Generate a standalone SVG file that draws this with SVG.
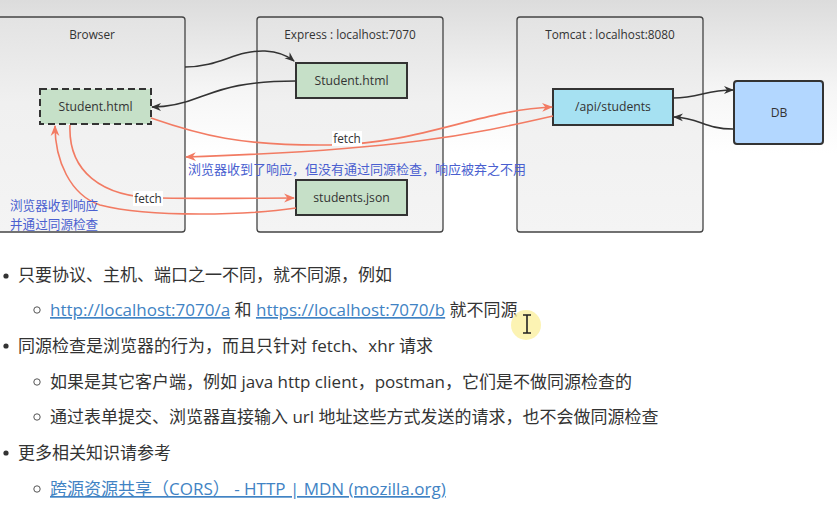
<svg xmlns="http://www.w3.org/2000/svg" width="837" height="513" viewBox="0 0 837 513">
<defs>
<linearGradient id="bg" x1="0" y1="0" x2="0" y2="1">
<stop offset="0" stop-color="#dcdcdc"/>
<stop offset="0.18" stop-color="#f6f6f6"/>
<stop offset="0.3" stop-color="#ffffff"/>
</linearGradient>
<linearGradient id="boxg" x1="0" y1="0" x2="0" y2="1">
<stop offset="0" stop-color="#e3e3e3"/>
<stop offset="0.4" stop-color="#f0f0f0"/>
<stop offset="1" stop-color="#f4f4f4"/>
</linearGradient>
<marker id="ab" viewBox="0 0 10 10" refX="9" refY="5" markerWidth="10" markerHeight="10" markerUnits="userSpaceOnUse" orient="auto">
<path d="M0,1 L10,5 L0,9 L3,5 Z" fill="#333"/>
</marker>
<marker id="ar" viewBox="0 0 10 10" refX="9" refY="5" markerWidth="11" markerHeight="11" markerUnits="userSpaceOnUse" orient="auto">
<path d="M0,1 L10,5 L0,9 L3,5 Z" fill="#f27b63"/>
</marker>
<style>
.cont{fill:url(#boxg);stroke:#444;stroke-width:1.3}
.green{fill:#c6e0c8;stroke:#333;stroke-width:2}
.t{font-family:"Open Sans","Noto Sans","Noto Sans CJK SC",sans-serif;fill:#333;font-size:11.8px}
.tn{font-family:"Open Sans","Noto Sans","Noto Sans CJK SC",sans-serif;fill:#333;font-size:12.2px}
.blue{font-family:"Noto Sans CJK SC",sans-serif;fill:#4a5fd0;font-size:13px}
.blk{fill:none;stroke:#333;stroke-width:1.6}
.red{fill:none;stroke:#f27b63;stroke-width:1.6}
.p{font-family:"Open Sans","Noto Sans CJK SC",sans-serif;fill:#333;font-size:17px}
.lnk{fill:#4183c4;text-decoration:underline}
</style>
</defs>
<rect width="837" height="513" fill="url(#bg)"/>

<g id="browser">
<rect class="cont" x="-3" y="17" width="188" height="215" rx="3"/>
<text class="t" x="92" y="39" text-anchor="middle">Browser</text>
</g>
<g id="express">
<rect class="cont" x="257" y="17" width="186" height="215" rx="3"/>
<text class="t" x="350" y="39" text-anchor="middle">Express : localhost:7070</text>
</g>
<g id="tomcat">
<rect class="cont" x="517" y="17" width="186" height="215" rx="3"/>
<text class="t" x="610" y="39" text-anchor="middle">Tomcat : localhost:8080</text>
</g>

<g id="browser-student">
<rect x="40" y="89" width="111" height="35" fill="#c6e0c8" stroke="#333" stroke-width="2" stroke-dasharray="7,4"/>
<text class="tn" x="95.5" y="111" text-anchor="middle">Student.html</text>
</g>
<g id="express-student">
<rect class="green" x="296" y="63" width="111" height="35"/>
<text class="tn" x="351.5" y="85" text-anchor="middle">Student.html</text>
</g>
<g id="students-json">
<rect class="green" x="296" y="180" width="111" height="35"/>
<text class="tn" x="351.5" y="202" text-anchor="middle">students.json</text>
</g>
<g id="api-students">
<rect x="553" y="89" width="120" height="36" fill="#a6e1f2" stroke="#333" stroke-width="2"/>
<text class="tn" x="613" y="111" text-anchor="middle">/api/students</text>
</g>
<g id="db">
<rect x="734" y="81" width="89" height="63" rx="3" fill="#b3d7ff" stroke="#333" stroke-width="2"/>
<text class="tn" x="779" y="117" text-anchor="middle">DB</text>
</g>

<g id="connectors">
<path class="blk" d="M185,67 C220,67 235,50 265,51 C280,52 288,56 294,61" marker-end="url(#ab)"/>
<path class="blk" d="M296,81 C240,81 220,90 200,97 C185,103 170,107 152,107" marker-end="url(#ab)"/>
<path class="blk" d="M673,98 C700,98 705,90 733,90" marker-end="url(#ab)"/>
<path class="blk" d="M733,129 C705,129 700,118 674,117" marker-end="url(#ab)"/>
<path class="red" d="M151,118 C200,135 240,146 330,145 C420,144 480,110 552,107" marker-end="url(#ar)"/>
<path class="red" d="M553,116 C470,135 400,150 186,157" marker-end="url(#ar)"/>
<path class="red" d="M70,125 C68,170 100,198 160,198 C220,199 260,198 294,198" marker-end="url(#ar)"/>
<path class="red" d="M296,208 C250,215 150,218 100,205 C70,195 55,160 55,126" marker-end="url(#ar)"/>
<rect x="332" y="131" width="30" height="15" fill="#fff"/>
<text class="t" x="347" y="143" text-anchor="middle">fetch</text>
<rect x="133" y="191" width="30" height="15" fill="#fff"/>
<text class="t" x="148" y="203" text-anchor="middle">fetch</text>
</g>

<text class="blue" x="188" y="174">浏览器收到了响应，但没有通过同源检查，响应被弃之不用</text>
<text class="blue" x="10" y="210" style="font-size:12.6px">浏览器收到响应</text>
<text class="blue" x="10" y="229" style="font-size:12.6px">并通过同源检查</text>

<g id="notes">
<circle cx="6" cy="276" r="2.6" fill="#333"/>
<text class="p" x="18" y="281">只要协议、主机、端口之一不同，就不同源，例如</text>
<circle cx="37" cy="310" r="3.2" fill="none" stroke="#555" stroke-width="1"/>
<text class="p" x="50" y="316"><tspan class="lnk">http://localhost:7070/a</tspan> 和 <tspan class="lnk">https://localhost:7070/b</tspan> 就不同源</text>
<circle cx="6" cy="346" r="2.6" fill="#333"/>
<text class="p" x="18" y="352">同源检查是浏览器的行为，而且只针对 fetch、xhr 请求</text>
<circle cx="37" cy="382" r="3.2" fill="none" stroke="#555" stroke-width="1"/>
<text class="p" x="50" y="388">如果是其它客户端，例如 java http client，postman，它们是不做同源检查的</text>
<circle cx="37" cy="417" r="3.2" fill="none" stroke="#555" stroke-width="1"/>
<text class="p" x="50" y="423">通过表单提交、浏览器直接输入 url 地址这些方式发送的请求，也不会做同源检查</text>
<circle cx="6" cy="453" r="2.6" fill="#333"/>
<text class="p" x="18" y="459">更多相关知识请参考</text>
<circle cx="37" cy="489" r="3.2" fill="none" stroke="#555" stroke-width="1"/>
<text class="p" x="50" y="495"><tspan class="lnk">跨源资源共享（CORS） - HTTP | MDN (mozilla.org)</tspan></text>
</g>

<g id="cursor">
<circle cx="526" cy="325" r="15" fill="#fbef9a" opacity="0.75"/>
<path d="M527,315 V333 M523,315 H531 M523,333 H531" stroke="#222" stroke-width="1.6" fill="none"/>
</g>
</svg>
